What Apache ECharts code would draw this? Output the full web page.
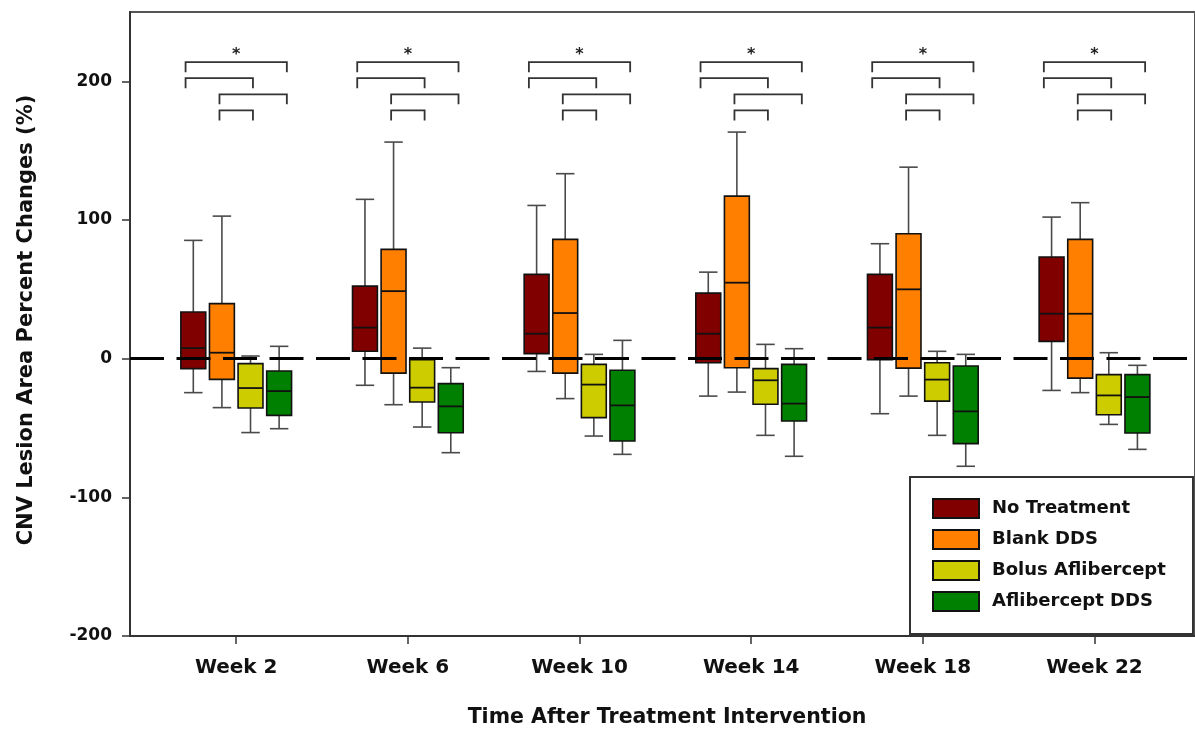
<!DOCTYPE html>
<html>
<head>
<meta charset="utf-8">
<script src="https://cdn.jsdelivr.net/npm/echarts@6/dist/echarts.min.js"></script>
<style>
  html, body { margin: 0; padding: 0; background: #ffffff; }
  #chart { width: 1195px; height: 730px; }
</style>
</head>
<body>
<div id="chart"></div>
<script>
// ---- data (min, Q1, median, Q3, max) per week ----
const weeks = [2, 6, 10, 14, 18, 22];
const weekLabels = ['Week 2', 'Week 6', 'Week 10', 'Week 14', 'Week 18', 'Week 22'];
const seriesNames = ['No Treatment', 'Blank DDS', 'Bolus Aflibercept', 'Aflibercept DDS'];
const noTreatment = [
  [-24.5, -7.2, 7.6, 33.6, 85.3],
  [-19.2, 5.3, 22.4, 52.3, 114.9],
  [-9.2, 3.6, 18.0, 60.8, 110.5],
  [-27.0, -2.9, 18.0, 47.3, 62.4],
  [-39.7, -0.7, 22.4, 60.8, 82.9],
  [-22.9, 12.5, 32.4, 73.3, 102.1]
];
const blankDDS = [
  [-35.3, -14.9, 4.3, 39.7, 102.8],
  [-33.2, -10.4, 48.7, 78.8, 156.2],
  [-28.8, -10.4, 32.9, 86.0, 133.4],
  [-24.1, -6.5, 54.8, 117.2, 163.4],
  [-27.0, -6.8, 50.0, 90.1, 138.1],
  [-24.5, -14.0, 32.4, 86.0, 112.5]
];
const bolusAflibercept = [
  [-53.3, -35.6, -21.2, -3.6, 1.9],
  [-49.3, -31.3, -20.9, -0.7, 7.6],
  [-55.8, -42.5, -18.7, -4.1, 3.1],
  [-55.3, -32.9, -15.6, -7.2, 10.3],
  [-55.3, -30.6, -15.1, -2.9, 5.3],
  [-47.4, -40.4, -26.5, -11.5, 4.3]
];
const afliberceptDDS = [
  [-50.5, -40.9, -23.4, -8.9, 8.9],
  [-67.8, -53.4, -34.4, -18.0, -6.5],
  [-69.0, -59.4, -33.7, -8.4, 13.2],
  [-70.4, -45.0, -32.4, -4.1, 7.2],
  [-77.6, -61.3, -38.0, -5.3, 3.1],
  [-65.4, -53.6, -27.7, -11.5, -4.8]
];
const seriesColors = ['#800000', '#ff8000', '#cccc00', '#008000'];
// significance brackets: level (value) for each of the 4 brackets, star height
const bracketLevels = [213.8, 202.3, 190.6, 179.0];
const bracketDrop = 7.2;
const starLevel = 221.6;
const yTicks = [-200, -100, 0, 100, 200];

// ---- layout constants ----
const groupOffsets = [-1, -1 / 3, 1 / 3, 1];
const BOX_W = 0.58;
const CAP_W = 0.43;
const bracketSpans = [[-1.18, 1.18], [-1.18, 0.39], [-0.39, 1.18], [-0.39, 0.39]];
const FONT = 'DejaVu Sans';

const chart = echarts.init(document.getElementById('chart'), null, { renderer: 'canvas' });

function boxRenderer(offset) {
  return function (params, api) {
    const w = api.value(0) + offset;
    const mn = api.value(1), q1 = api.value(2), md = api.value(3), q3 = api.value(4), mx = api.value(5);
    const half = api.size([BOX_W, 0])[0] / 2;
    const capHalf = api.size([CAP_W, 0])[0] / 2;
    const pMax = api.coord([w, mx]);
    const pQ3 = api.coord([w, q3]);
    const pMd = api.coord([w, md]);
    const pQ1 = api.coord([w, q1]);
    const pMin = api.coord([w, mn]);
    const x = pMax[0];
    const style = api.style();
    const wStyle = { stroke: '#4a4a4a', lineWidth: 1.6 };
    return {
      type: 'group',
      children: [
        { type: 'line', shape: { x1: x, y1: pMax[1], x2: x, y2: pQ3[1] }, style: wStyle },
        { type: 'line', shape: { x1: x, y1: pQ1[1], x2: x, y2: pMin[1] }, style: wStyle },
        { type: 'line', shape: { x1: x - capHalf, y1: pMax[1], x2: x + capHalf, y2: pMax[1] }, style: wStyle },
        { type: 'line', shape: { x1: x - capHalf, y1: pMin[1], x2: x + capHalf, y2: pMin[1] }, style: wStyle },
        { type: 'rect', shape: { x: x - half, y: pQ3[1], width: half * 2, height: pQ1[1] - pQ3[1] },
          style: { fill: style.fill, stroke: '#111', lineWidth: 1.6 } },
        { type: 'line', shape: { x1: x - half, y1: pMd[1], x2: x + half, y2: pMd[1] },
          style: { stroke: '#111', lineWidth: 1.8 } }
      ]
    };
  };
}

const allData = [noTreatment, blankDDS, bolusAflibercept, afliberceptDDS];
const boxSeries = allData.map((arr, si) => ({
  name: seriesNames[si],
  type: 'custom',
  renderItem: boxRenderer(groupOffsets[si]),
  itemStyle: { color: seriesColors[si], borderColor: '#111', borderWidth: 1.5 },
  encode: { x: 0, y: [1, 2, 3, 4, 5] },
  data: weeks.map((wk, i) => [wk].concat(arr[i])),
  z: 3
}));

const bracketSeries = {
  name: 'brackets',
  type: 'custom',
  silent: true,
  renderItem: function (params, api) {
    const wk = api.value(0);
    const children = [];
    bracketSpans.forEach((sp, k) => {
      const a = api.coord([wk + sp[0], bracketLevels[k]]);
      const b = api.coord([wk + sp[1], bracketLevels[k]]);
      const dy = api.coord([wk, bracketLevels[k] - bracketDrop])[1];
      children.push({
        type: 'polyline',
        shape: { points: [[a[0], dy], [a[0], a[1]], [b[0], b[1]], [b[0], dy]] },
        style: { stroke: '#333', lineWidth: 1.8, fill: null }
      });
    });
    const s = api.coord([wk, starLevel]);
    children.push({
      type: 'text',
      style: { text: '*', x: s[0], y: s[1] + 3, align: 'center', verticalAlign: 'middle',
               font: 'bold 16px "DejaVu Sans"', fill: '#222' }
    });
    return { type: 'group', children: children };
  },
  data: weeks.map(w => [w, starLevel]),
  encode: { x: 0, y: 1 },
  z: 4
};

const zeroLine = {
  name: 'zero',
  type: 'line',
  data: [],
  silent: true,
  z: 10,
  markLine: {
    silent: true,
    symbol: 'none',
    label: { show: false },
    lineStyle: { color: '#000', width: 3, type: [34, 12.5] },
    data: [{ yAxis: 0 }],
    z: 10
  }
};

const option = {
  backgroundColor: '#ffffff',
  animation: false,
  grid: {
    left: 130, top: 12, right: -5, bottom: 94,
    show: true, borderColor: '#555', borderWidth: 2, backgroundColor: 'transparent'
  },
  xAxis: {
    type: 'value',
    min: -0.475,
    max: 24.342,
    splitLine: { show: false },
    axisLine: { show: true, onZero: false, lineStyle: { color: '#333', width: 2 } },
    axisTick: { show: true, customValues: weeks, length: 8, lineStyle: { color: '#333', width: 1.5 } },
    axisLabel: {
      customValues: weeks,
      formatter: v => weekLabels[weeks.indexOf(v)] || '',
      margin: 22,
      fontFamily: FONT, fontWeight: 'bold', fontSize: 20, color: '#111'
    }
  },
  yAxis: {
    type: 'value',
    min: -200,
    max: 250,
    splitLine: { show: false },
    axisLine: { show: true, onZero: false, lineStyle: { color: '#333', width: 2 } },
    axisTick: { show: true, customValues: yTicks, length: 8, lineStyle: { color: '#333', width: 1.5 } },
    axisLabel: {
      customValues: yTicks,
      margin: 18,
      fontFamily: FONT, fontWeight: 'bold', fontSize: 17, color: '#111'
    }
  },
  legend: {
    data: seriesNames,
    orient: 'vertical',
    left: 927,
    top: 493,
    itemWidth: 46,
    itemHeight: 19,
    itemGap: 10,
    icon: 'rect',
    selectedMode: false,
    textStyle: { fontFamily: FONT, fontWeight: 'bold', fontSize: 18, color: '#111', padding: [0, 0, 0, 8] }
  },
  graphic: [
    { type: 'rect', left: 909, top: 476, z: 1,
      shape: { width: 283, height: 157 },
      style: { fill: '#fff', stroke: '#333', lineWidth: 2 } },
    { type: 'text', x: 27, y: 320, rotation: Math.PI / 2, z: 5,
      style: { text: 'CNV Lesion Area Percent Changes (%)', align: 'center', verticalAlign: 'middle',
               font: 'bold 21px "DejaVu Sans"', fill: '#111' } },
    { type: 'text', x: 667, y: 718, z: 5,
      style: { text: 'Time After Treatment Intervention', align: 'center', verticalAlign: 'middle',
               font: 'bold 20.5px "DejaVu Sans"', fill: '#111' } }
  ],
  series: boxSeries.concat([bracketSeries, zeroLine])
};

chart.setOption(option);
</script>
</body>
</html>
